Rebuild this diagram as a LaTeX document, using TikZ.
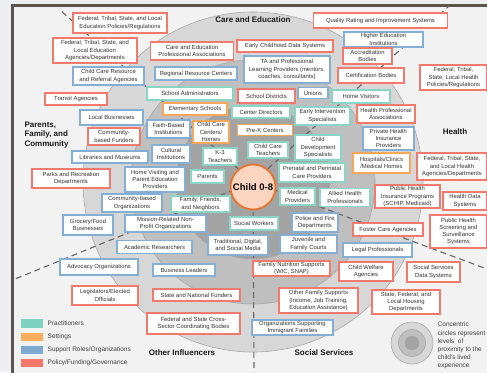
\documentclass[tikz,border=0pt]{standalone}
\usepackage{fontspec}
\setmainfont{Liberation Sans}
\definecolor{cteal}{HTML}{8AD5C4}
\definecolor{corange}{HTML}{F8A65A}
\definecolor{cblue}{HTML}{85AED4}
\definecolor{cred}{HTML}{F2796C}
\definecolor{lteal}{HTML}{7ED3BE}
\definecolor{lorange}{HTML}{FBAD5E}
\definecolor{lblue}{HTML}{80A9D2}
\definecolor{lred}{HTML}{F6786B}
\definecolor{bgpage}{HTML}{ECEEF1}
\definecolor{bgin}{HTML}{F2F2F2}
\definecolor{framec}{HTML}{5A544F}
\definecolor{ringa}{HTML}{D7D7D7}
\definecolor{ringb}{HTML}{BFBFBF}
\definecolor{ringc}{HTML}{A3A3A3}
\definecolor{ringline}{HTML}{A8A8A8}
\definecolor{childfill}{HTML}{FCD5C0}
\definecolor{childline}{HTML}{E8732C}
\definecolor{dashc}{HTML}{666666}
\definecolor{txt}{HTML}{333333}
\newcommand\bxn[7]{\node[#2, minimum width=#5pt, minimum height=#6pt] (#1) at (#3,#4) {#7};}
\begin{document}
\begin{tikzpicture}[x=1pt,y=-1pt,
  bx/.style={draw, fill=white, line width=1.1pt, inner xsep=1pt, inner ysep=0.5pt, align=center, font=\fontsize{5.9}{7.3}\selectfont, text=txt},
  pr/.style={bx, draw=cteal}, se/.style={bx, draw=corange}, su/.style={bx, draw=cblue}, po/.style={bx, draw=cred},
  secttitle/.style={font=\fontsize{8}{9.5}\selectfont\bfseries, text=black!90},
  divider/.style={draw=dashc, line width=1.1pt, dash pattern=on 6pt off 4pt},
  swatch/.style={rectangle, minimum width=22pt, minimum height=8.5pt, inner sep=0pt},
  legtext/.style={font=\fontsize{6.5}{8}\selectfont, text=black!75, inner sep=0pt}]
\useasboundingbox (0,0) rectangle (487,372);
\fill[bgpage] (0,0) rectangle (487,372);
\filldraw[fill=bgin, draw=framec, line width=2.8pt] (12.5,5.3) rectangle (500,390);
% rings
\filldraw[fill=ringa, draw=ringline, line width=0.6pt] (253,182) circle[radius=170pt];
\filldraw[fill=ringb, draw=ringline, line width=0.6pt] (253,182) circle[radius=122pt];
\filldraw[fill=ringc, draw=ringline, line width=0.6pt] (253,182) circle[radius=77pt];
% dividers
\coordinate (ctr) at (253,182);
\coordinate (dTL) at (60,10);
\coordinate (dTR) at (449,6);
\coordinate (dL) at (15,279);
\coordinate (dB) at (254,372);
\coordinate (dR) at (487,269);
\draw[divider] (ctr) -- (dTL);
\draw[divider] (ctr) -- (dTR);
\draw[divider] (ctr) -- (dL);
\draw[divider] (ctr) -- (dB);
\draw[divider] (ctr) -- (dR);
% sector titles
\node[secttitle] (tCE) at (253,20) {Care and Education};
\node[secttitle] (tH) at (455,132) {Health};
\node[secttitle, align=left, anchor=west] (tP) at (21,135) {Parents,\\Family, and\\Community};
\node[secttitle] (tO) at (182,353) {Other Influencers};
\node[secttitle] (tS) at (324,353) {Social Services};
% boxes
\bxn{n1}{po}{120}{23}{94}{20}{Federal, Tribal, State, and Local\\Education Policies/Regulations}
\bxn{n2}{po}{380.5}{20.5}{134}{15}{Quality Rating and Improvement Systems}
\bxn{n3}{po}{95}{50.5}{84}{25}{Federal, Tribal, State, and\\Local Education\\Agencies/Departments}
\bxn{n4}{po}{192}{51}{83}{18}{Care and Education\\Professional Associations}
\bxn{n5}{po}{285}{46}{96}{12}{Early Childhood Data Systems}
\bxn{n6}{su}{383.5}{39.5}{79}{15}{Higher Education\\Institutions}
\bxn{n7}{po}{367.5}{56}{49}{16}{Accreditation\\Bodies}
\bxn{n8}{su}{108.5}{76}{71}{18}{Child Care Resource\\and Referral Agencies}
\bxn{n9}{su}{196}{73.5}{82}{13}{Regional Resource Centers}
\bxn{n10}{su}{287}{69.5}{86}{27}{TA and Professional\\Learning Providers (mentors,\\coaches, consultants)}
\bxn{n11}{po}{371}{75.5}{66}{15}{Certification Bodies}
\bxn{n12}{po}{453.5}{77.5}{67}{25}{Federal, Tribal,\\State, Local Health\\Policies/Regulations}
\bxn{n13}{po}{76}{99}{62}{12}{Transit Agencies}
\bxn{n14}{pr}{190}{93.5}{86}{13}{School Administrators}
\bxn{n15}{po}{266.5}{96}{57}{14}{School Districts}
\bxn{n16}{su}{313}{93}{30}{11}{Unions}
\bxn{n17}{pr}{361}{96.5}{58}{13}{Home Visitors}
\bxn{n18}{su}{111.5}{117.5}{63}{15}{Local Businesses}
\bxn{n19}{se}{195}{109}{64}{12}{Elementary Schools}
\bxn{n20}{pr}{261}{112}{58}{12}{Center Directors}
\bxn{n21}{pr}{322.5}{116}{55}{18}{Early Intervention\\Specialists}
\bxn{n22}{po}{386}{114}{58}{18}{Health Professional\\Associations}
\bxn{n23}{po}{114}{136.5}{52}{17}{Community-\\based Funders}
\bxn{n24}{su}{168.5}{129}{43}{18}{Faith-Based\\Institutions}
\bxn{n25}{se}{211}{132}{36}{22}{Child Care\\Centers/\\Homes}
\bxn{n26}{se}{265}{130}{55}{11}{Pre-K Centers}
\bxn{n27}{su}{388.5}{138.5}{51}{23}{Private Health\\Insurance\\Providers}
\bxn{n28}{su}{110}{157}{76}{12}{Libraries and Museums}
\bxn{n29}{su}{171}{154}{38}{18}{Cultural\\Institutions}
\bxn{n30}{pr}{220}{156.5}{34}{17}{K-3\\Teachers}
\bxn{n31}{pr}{268}{150}{40}{16}{Child Care\\Teachers}
\bxn{n32}{pr}{318}{147.5}{46}{25}{Child\\Development\\Specialists}
\bxn{n33}{se}{381.5}{163}{57}{20}{Hospitals/Clinics\\/Medical Homes}
\bxn{n34}{po}{452}{166.5}{70}{27}{Federal, Tribal, State,\\and Local Health\\Agencies/Departments}
\bxn{n35}{po}{71}{178.5}{78}{19}{Parks and Recreation\\Departments}
\bxn{n36}{su}{155}{179.5}{60}{25}{Home Visiting and\\Parent Education\\Providers}
\bxn{n37}{pr}{207.5}{176.5}{33}{13}{Parents}
\bxn{n38}{pr}{312}{172.5}{66}{19}{Prenatal and Perinatal\\Care Providers}
\bxn{n39}{pr}{345}{197.5}{50}{18}{Allied Health\\Professionals}
\bxn{n40}{pr}{297.5}{196.5}{35}{17}{Medical\\Providers}
\bxn{n41}{po}{407.5}{196.5}{65}{23}{Public Health\\Insurance Programs\\(SCHIP, Medicaid)}
\bxn{n42}{po}{465}{201}{44}{18}{Health Data\\Systems}
\bxn{n43}{su}{132}{203}{60}{18}{Community-based\\Organizations}
\bxn{n44}{pr}{200.5}{204}{59}{16}{Family, Friends,\\and Neighbors}
\bxn{n45}{su}{88}{225}{50}{20}{Grocery/Food\\Businesses}
\bxn{n46}{su}{165.5}{223.5}{81}{17}{Mission-Related Non-\\Profit Organizations}
\bxn{n47}{pr}{254}{223.5}{48}{13}{Social Workers}
\bxn{n48}{su}{315}{222.5}{46}{19}{Police and Fire\\Departments}
\bxn{n49}{po}{388}{229.5}{70}{13}{Foster Care Agencies}
\bxn{n50}{po}{458.5}{231.5}{57}{33}{Public Health\\Screening and\\Surveillance\\Systems}
\bxn{n51}{su}{154.5}{247}{75}{13}{Academic Researchers}
\bxn{n52}{su}{238}{245}{60}{20}{Traditional, Digital,\\and Social Media}
\bxn{n53}{su}{308.5}{244}{57}{18}{Juvenile and\\Family Courts}
\bxn{n54}{su}{377.5}{250}{69}{14}{Legal Professionals}
\bxn{n55}{su}{99}{267}{78}{16}{Advocacy Organizations}
\bxn{n56}{su}{184}{270}{62}{12}{Business Leaders}
\bxn{n57}{po}{291.5}{268.5}{77}{15}{Family Nutrition Supports\\(WIC, SNAP)}
\bxn{n58}{po}{366}{271.5}{54}{19}{Child Welfare\\Agencies}
\bxn{n59}{po}{433.5}{272}{53}{20}{Social Services\\Data Systems}
\bxn{n60}{po}{105}{295.5}{66}{19}{Legislators/Elected\\Officials}
\bxn{n61}{po}{196.5}{295}{87}{12}{State and National Funders}
\bxn{n62}{po}{318.5}{300.5}{79}{25}{Other Family Supports\\(Income, Job Training,\\Education Assistance)}
\bxn{n63}{po}{406}{302}{68}{24}{State, Federal, and\\Local Housing\\Departments}
\bxn{n64}{po}{193.5}{323.5}{93}{21}{Federal and State Cross-\\Sector Coordinating Bodies}
\bxn{n65}{su}{292.5}{327.5}{81}{15}{Organizations Supporting\\Immigrant Families}
% child
\node[circle, draw=childline, fill=childfill, line width=1.8pt, minimum size=45pt, inner sep=0pt, font=\fontsize{9.5}{11}\selectfont\bfseries] (child) at (253,187) {Child 0-8};
% legend
\node[swatch, fill=lteal] (lg1) at (32,323.5) {};
\node[swatch, fill=lorange] (lg2) at (32,337) {};
\node[swatch, fill=lblue] (lg3) at (32,350) {};
\node[swatch, fill=lred] (lg4) at (32,363) {};
\node[legtext, anchor=west] (lt1) at (47.5,323.5) {Practitioners};
\node[legtext, anchor=west] (lt2) at (47.5,337) {Settings};
\node[legtext, anchor=west] (lt3) at (47.5,350) {Support Roles/Organizations};
\node[legtext, anchor=west] (lt4) at (47.5,363) {Policy/Funding/Governance};
% concentric legend
\filldraw[fill=ringa, draw=ringline, line width=0.6pt] (412,343) circle[radius=21pt];
\filldraw[fill=ringb, draw=ringline, line width=0.6pt] (412,343) circle[radius=13.5pt];
\filldraw[fill=ringc, draw=ringline, line width=0.6pt] (412,343) circle[radius=7pt];
\node[legtext, align=left, anchor=north west, font=\fontsize{6.5}{8.1}\selectfont] (ct) at (437.5,322) {Concentric\\circles represent\\levels\ \ of\\proximity to the\\child’s lived\\experience};
\end{tikzpicture}
\end{document}
